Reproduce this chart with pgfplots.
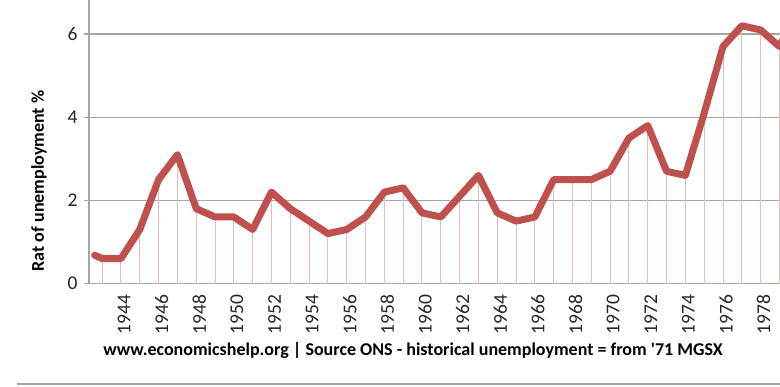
\documentclass[border=0pt]{standalone}
\usepackage{pgfplots}
\pgfplotsset{compat=1.18}
\usepackage{fontspec}
\setmainfont{Carlito}
\definecolor{exred}{HTML}{C0504D}
\definecolor{droppink}{HTML}{E8BCBB}
\definecolor{gridgray}{HTML}{A6A6A6}
\begin{document}
\begin{tikzpicture}
\path[use as bounding box] (-89pt,-102.5pt) rectangle (691pt,283.5pt);
\begin{axis}[
  at={(0pt,0pt)}, anchor=south west,
  scale only axis, width=691pt, height=283.5pt,
  xmin=1942.3, xmax=1979.03, ymin=0, ymax=6.82,
  axis lines*=left,
  axis line style={gridgray, line width=1.2pt},
  xtick={1944,1946,...,1978},
  ytick={0,2,4,6},
  xtick style={draw=none},
  ytick style={gridgray, line width=1.2pt},
  tick align=outside, major tick length=5pt,
  ymajorgrids, grid style={gridgray, line width=1.2pt},
  /pgf/number format/assume math mode=true,
  /pgf/number format/1000 sep={},
  ticklabel style={font=\fontsize{19.5}{22}\selectfont, text=black!85},
  xticklabel style={rotate=90, anchor=east, xshift=-3pt, yshift=-3pt},
  yticklabel style={xshift=-3pt},
  xlabel={www.economicshelp.org | Source ONS - historical unemployment = from \textquotesingle 71 MGSX},
  ylabel={Rat of unemployment \%},
  label style={font=\bfseries\fontsize{18}{21}\selectfont},
  xlabel style={at={(axis description cs:0.469,-0.2346)}, anchor=center},
  ylabel style={at={(axis description cs:-0.0724,0.3616)}, anchor=center},
]
\addplot[ycomb, droppink, line width=1pt, mark=none] coordinates {
(1943,0.6) (1944,0.6) (1945,1.3) (1946,2.5) (1947,3.1) (1948,1.8) (1949,1.6)
(1950,1.6) (1951,1.3) (1952,2.2) (1953,1.8) (1954,1.5) (1955,1.2) (1956,1.3)
(1957,1.6) (1958,2.2) (1959,2.3) (1960,1.7) (1961,1.6) (1962,2.1) (1963,2.6)
(1964,1.7) (1965,1.5) (1966,1.6) (1967,2.5) (1968,2.5) (1969,2.5) (1970,2.7)
(1971,3.5) (1972,3.8) (1973,2.7) (1974,2.6) (1975,4.1) (1976,5.7) (1977,6.2)
(1978,6.1) (1979,5.7)
};
\addplot[exred, line width=7pt, line join=round, line cap=round, mark=none] coordinates {
(1942.6,0.68) (1943,0.6) (1944,0.6) (1945,1.3) (1946,2.5) (1947,3.1) (1948,1.8) (1949,1.6)
(1950,1.6) (1951,1.3) (1952,2.2) (1953,1.8) (1954,1.5) (1955,1.2) (1956,1.3)
(1957,1.6) (1958,2.2) (1959,2.3) (1960,1.7) (1961,1.6) (1962,2.1) (1963,2.6)
(1964,1.7) (1965,1.5) (1966,1.6) (1967,2.5) (1968,2.5) (1969,2.5) (1970,2.7)
(1971,3.5) (1972,3.8) (1973,2.7) (1974,2.6) (1975,4.1) (1976,5.7) (1977,6.2)
(1978,6.1) (1979,5.7) (1980,6.6)
};
\end{axis}
\draw[gridgray, line width=2pt] (-72pt,-100pt) -- (691pt,-100pt);
\end{tikzpicture}
\end{document}
